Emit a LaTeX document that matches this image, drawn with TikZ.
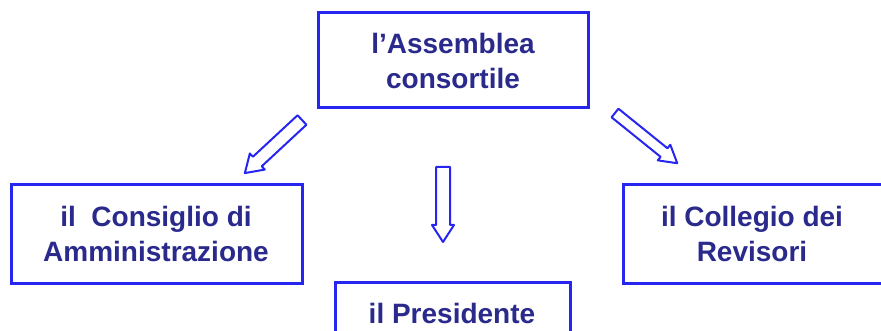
\documentclass[tikz,border=0pt]{standalone}
\usepackage{fontspec}
\setmainfont{Liberation Sans}
\definecolor{boxblue}{HTML}{2626F0}
\definecolor{txtblue}{HTML}{2A2A8C}
\begin{document}
\begin{tikzpicture}[x=1pt,y=-1pt,
  orgbox/.style={draw=boxblue, line width=3pt, fill=white},
  orgtext/.style={text=txtblue, font=\fontsize{28}{35}\selectfont\bfseries, align=center},
  blockarrow/.style={draw=boxblue, line width=2pt, fill=white, line join=round},
  pics/hollowarrow/.style args={#1/#2/#3}{code={
     % #1 length, #2 shaft half width, #3 head half width
     \draw[blockarrow] (0,-#2) -- ({#1-17},-#2) -- ({#1-17},-#3) -- (#1,0)
        -- ({#1-17},#3) -- ({#1-17},#2) -- (0,#2) -- cycle;}}]
\useasboundingbox (0,0) rectangle (881,331);
\clip (0,0) rectangle (881,331);
% boxes
\draw[orgbox] (318,13) rectangle (588,108);
\node[orgtext] (ass) at (453,61) {l'Assemblea\\consortile};
\draw[orgbox] (11,185) rectangle (302,283);
\node[orgtext] (cda) at (156,234) {il \ Consiglio di\\Amministrazione};
\draw[orgbox] (335,282) rectangle (570,345);
\node[orgtext, anchor=base] (pres) at (452,323) {il Presidente};
\draw[orgbox] (623,185) rectangle (895,283);
\node[orgtext] (rev) at (752,234) {il Collegio dei\\Revisori};
% arrows
\coordinate (l1) at (302,120); \coordinate (l2) at (245,173);
\coordinate (m1) at (443,167); \coordinate (m2) at (443,242);
\coordinate (r1) at (615,113); \coordinate (r2) at (677,163);
\pic[rotate=222.9] at (l1) {hollowarrow={78/6.5/11}};
\pic[rotate=270] at (m1) {hollowarrow={75/7/11}};
\pic[rotate=-38.9] at (r1) {hollowarrow={80/5.5/10}};
\end{tikzpicture}
\end{document}
